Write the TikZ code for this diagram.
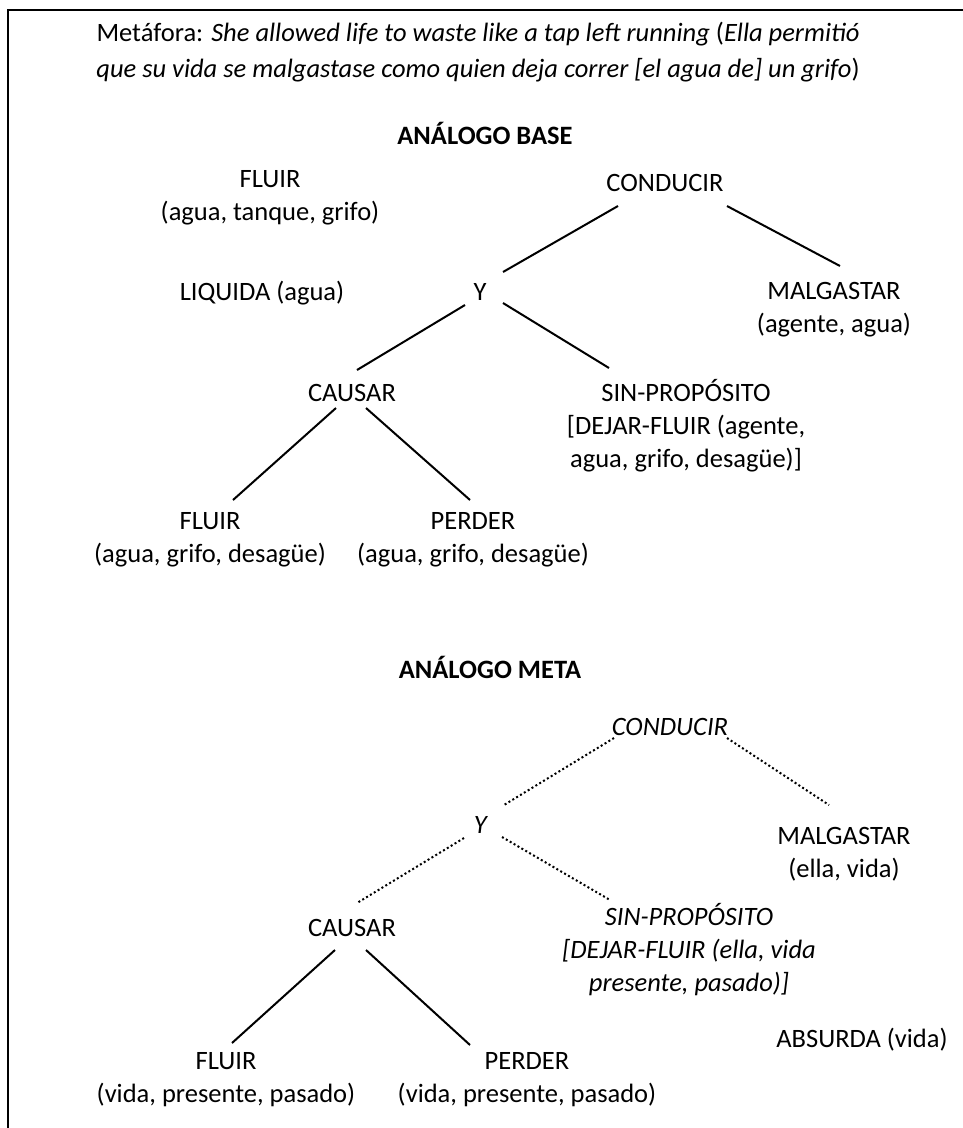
\documentclass[tikz,border=0pt]{standalone}
\usepackage{fontspec}
\setmainfont{Carlito}
\usetikzlibrary{calc}

\begin{document}
\begin{tikzpicture}[x=1pt,y=-1pt,
  every node/.style={align=center,inner sep=0pt,font=\fontsize{26.5}{33}\selectfont},
  link/.style={line width=2pt},
  dotlink/.style={line width=2pt,dash pattern=on 2pt off 2.5pt}]
  \useasboundingbox (0,0) rectangle (963,1128);
  \draw[line width=2pt] (963,10) -- (8,10) -- (8,1128);
  \node (title) at (478,52) {Metáfora: \textit{She allowed life to waste like a tap left running} (\textit{Ella permitió}\\[3pt]
    \textit{que su vida se malgastase como quien deja correr [el agua de] un grifo})};
  \node (hbase) at (485,133) {\textbf{ANÁLOGO BASE}};
  \node (bfluir0) at (270,198) {FLUIR\\(agua, tanque, grifo)};
  \node (bcond) at (665,183) {CONDUCIR};
  \node (bliq) at (262,293) {LIQUIDA (agua)};
  \node (by) at (480,292) {Y};
  \node (bmalg) at (834,310) {MALGASTAR\\(agente, agua)};
  \node (bcaus) at (352,393) {CAUSAR};
  \node (bsin) at (686,426) {SIN-PROPÓSITO\\{}[DEJAR-FLUIR (agente,\\agua, grifo, desagüe)]};
  \node (bfluir) at (210,540) {FLUIR\\(agua, grifo, desagüe)};
  \node (bperder) at (473,540) {PERDER\\(agua, grifo, desagüe)};
  \draw[link] ($(bcond)+(-47,23)$) -- ($(by)+(23,-20)$);
  \draw[link] ($(bcond)+(62,23)$) -- ($(bmalg)+(6,-44)$);
  \draw[link] ($(by)+(-15,13)$) -- ($(bcaus)+(5,-23)$);
  \draw[link] ($(by)+(23,11)$) -- ($(bsin)+(-77,-58)$);
  \draw[link] ($(bcaus)+(-16,15)$) -- ($(bfluir)+(23,-40)$);
  \draw[link] ($(bcaus)+(14,15)$) -- ($(bperder)+(-3,-40)$);
  \node (hmeta) at (490,667) {\textbf{ANÁLOGO META}};
  \node (mcond) at (670,727) {\textit{CONDUCIR}};
  \node (my) at (481,825) {\textit{Y}};
  \node (mmalg) at (844,854) {MALGASTAR\\(ella, vida)};
  \node (mcaus) at (352,928) {CAUSAR};
  \node (msin) at (689,950) {\textit{SIN-PROPÓSITO}\\\textit{[DEJAR-FLUIR (ella, vida}\\\textit{presente, pasado)]}};
  \node (mabs) at (862,1040) {ABSURDA (vida)};
  \node (mfluir) at (226,1080) {FLUIR\\(vida, presente, pasado)};
  \node (mperder) at (527,1080) {PERDER\\(vida, presente, pasado)};
  \draw[dotlink] ($(mcond)+(-56,11)$) -- ($(my)+(23,-20)$);
  \draw[dotlink] ($(mcond)+(57,11)$) -- ($(mmalg)+(-15,-49)$);
  \draw[dotlink] ($(my)+(-17,13)$) -- ($(mcaus)+(5,-25)$);
  \draw[dotlink] ($(my)+(21,12)$) -- ($(msin)+(-79,-50)$);
  \draw[link] ($(mcaus)+(-17,22)$) -- ($(mfluir)+(6,-37)$);
  \draw[link] ($(mcaus)+(14,22)$) -- ($(mperder)+(-57,-35)$);
\end{tikzpicture}
\end{document}
